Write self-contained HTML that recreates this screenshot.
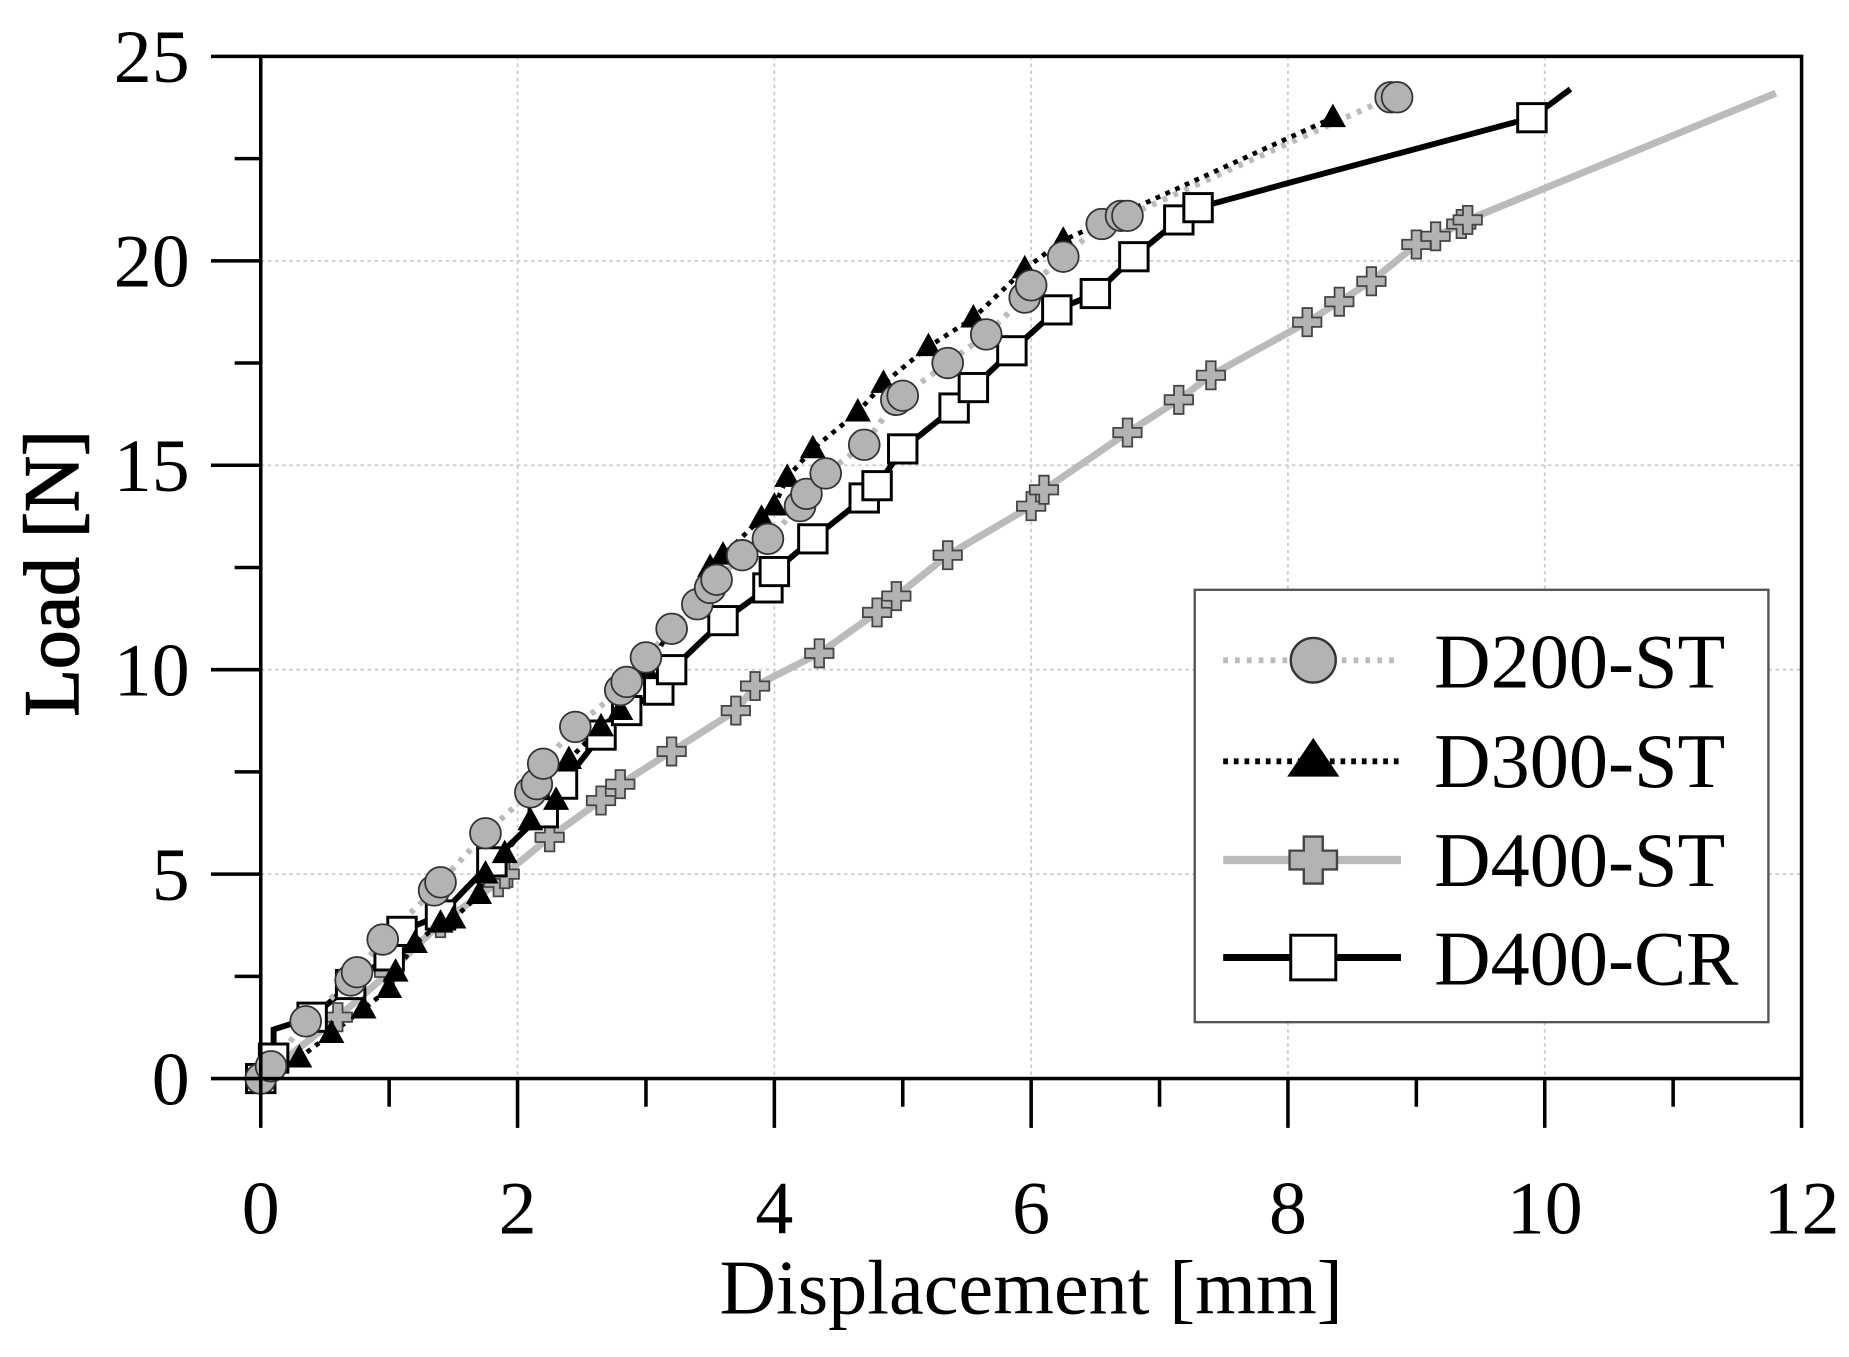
<!DOCTYPE html>
<html><head><meta charset="utf-8"><style>html,body{margin:0;padding:0;background:#fff;}svg{display:block}</style></head>
<body>
<svg id="s" width="1849" height="1357" viewBox="0 0 1560 1155" preserveAspectRatio="none" xmlns="http://www.w3.org/2000/svg" font-family="Liberation Serif, serif">
<rect width="1560" height="1155" fill="#fff"/>
<g id="grid"></g>
<g id="series"></g>
<rect x="220" y="48" width="1300" height="870" fill="none" stroke="#000" stroke-width="3"/>
<g id="ticks" stroke="#000" stroke-width="3"></g>
<g id="labels" font-size="64" fill="#000"></g>
<text x="870" y="1118" font-size="66" text-anchor="middle">Displacement [mm]</text>
<text transform="translate(66,488) rotate(-90)" font-size="66" text-anchor="middle" stroke="#000" stroke-width="1.2">Load [N]</text>
<g id="legend">
<rect x="1008" y="502" width="484" height="368" fill="#fff" stroke="#555" stroke-width="2"/>
<line x1="1032" y1="562" x2="1182" y2="562" stroke="#bbb" stroke-width="5" stroke-dasharray="4,6"/>
<circle cx="1108" cy="562" r="19" fill="#b3b3b3" stroke="#333" stroke-width="2"/>
<line x1="1032" y1="648" x2="1182" y2="648" stroke="#000" stroke-width="5" stroke-dasharray="4,5"/>
<polygon points="1108,628 1130,661 1086,661" fill="#000"/>
<line x1="1032" y1="732" x2="1182" y2="732" stroke="#bbb" stroke-width="7"/>
<path d="M1100,712h16v12h12v16h-12v12h-16v-12h-12v-16h12z" fill="#b3b3b3" stroke="#444" stroke-width="2"/>
<line x1="1032" y1="815" x2="1182" y2="815" stroke="#000" stroke-width="6"/>
<rect x="1089" y="796" width="38" height="38" fill="#fff" stroke="#000" stroke-width="2.5"/>
<g font-size="66"><text x="1210" y="585">D200-ST</text><text x="1210" y="670">D300-ST</text><text x="1210" y="754">D400-ST</text><text x="1210" y="838">D400-CR</text></g>
</g>
</svg>
<script>
const NS="http://www.w3.org/2000/svg";
const X=v=>220+108.33*v, Y=v=>918-34.8*v;
function el(p,t,a){const e=document.createElementNS(NS,t);for(const k in a)e.setAttribute(k,a[k]);p.appendChild(e);return e;}
const g=document.getElementById('grid'),tk=document.getElementById('ticks'),lb=document.getElementById('labels');
for(let i=0;i<=12;i++){const x=X(i);
 if(i%2==0&&i>0&&i<12)el(g,'line',{x1:x,y1:48,x2:x,y2:918,stroke:'#ccc','stroke-width':1.5,'stroke-dasharray':'3,3'});
 el(tk,'line',{x1:x,y1:918,x2:x,y2:i%2==0?960:942});
 if(i%2==0){const t=el(lb,'text',{x:x,y:1050,'text-anchor':'middle'});t.textContent=i;}}
for(let j=0;j<=10;j++){const v=j*2.5,y=Y(v);
 if(j%2==0&&j>0&&j<10)el(g,'line',{x1:220,y1:y,x2:1520,y2:y,stroke:'#ccc','stroke-width':1.5,'stroke-dasharray':'3,3'});
 el(tk,'line',{x1:j%2==0?178:198,y1:y,x2:220,y2:y});
 if(j%2==0){const t=el(lb,'text',{x:160,y:y+22,'text-anchor':'end'});t.textContent=v;}}
const s=document.getElementById('series');
const d200=[[0,0],[0.08,0.3],[0.35,1.4],[0.7,2.4],[0.75,2.6],[0.95,3.4],[1.35,4.6],[1.4,4.8],[1.75,6],[2.1,7],[2.15,7.2],[2.2,7.7],[2.45,8.6],[2.8,9.5],[2.85,9.7],[3,10.3],[3.2,11],[3.4,11.6],[3.5,12],[3.55,12.2],[3.75,12.8],[3.95,13.2],[4.2,14],[4.25,14.3],[4.4,14.8],[4.7,15.5],[4.95,16.6],[5,16.7],[5.35,17.5],[5.65,18.2],[5.95,19.1],[6,19.4],[6.25,20.1],[6.55,20.9],[6.7,21.1],[6.75,21.1],[8.8,24],[8.85,24]];
const d300=[[0,0],[0.3,0.5],[0.55,1.1],[0.8,1.7],[1.0,2.2],[1.05,2.6],[1.2,3.3],[1.4,3.8],[1.5,3.9],[1.7,4.5],[1.75,5],[1.9,5.5],[2.1,6.3],[2.3,6.8],[2.4,7.8],[2.65,8.6],[2.8,9],[3,10],[3.2,11],[3.5,12.5],[3.6,12.8],[3.9,13.7],[4.0,14],[4.1,14.7],[4.3,15.4],[4.65,16.3],[4.85,17],[5.2,17.9],[5.55,18.6],[5.95,19.8],[6.25,20.5],[8.35,23.5]];
const d400=[[0,0],[0.6,1.5],[1.0,2.6],[1.4,3.8],[1.85,4.8],[1.9,5],[2.25,5.9],[2.65,6.8],[2.8,7.2],[3.2,8],[3.7,9],[3.85,9.6],[4.35,10.4],[4.8,11.4],[4.95,11.8],[5.35,12.8],[6.0,14],[6.1,14.4],[6.75,15.8],[7.15,16.6],[7.4,17.2],[8.15,18.5],[8.4,19],[8.65,19.5],[9.0,20.4],[9.15,20.6],[9.35,20.9],[9.4,21],[11.8,24.1]];
const dcr=[[0,0],[0.1,0.5],[0.1,1.2],[0.4,1.5],[0.7,2.3],[1.0,3],[1.1,3.6],[1.4,4],[1.8,5.3],[2.2,6.5],[2.35,7.2],[2.65,8.4],[2.85,9],[3.1,9.5],[3.2,10],[3.6,11.2],[3.95,12],[4.0,12.4],[4.3,13.2],[4.7,14.2],[4.8,14.5],[5.0,15.4],[5.4,16.4],[5.55,16.9],[5.85,17.8],[6.2,18.8],[6.5,19.2],[6.8,20.1],[7.15,21],[7.3,21.3],[8,21.9],[9.9,23.5],[10.2,24.2]];
const pts=a=>a.map(p=>X(p[0])+','+Y(p[1])).join(' ');
el(s,'polyline',{points:pts(d400),fill:'none',stroke:'#bbb','stroke-width':6});
el(s,'polyline',{points:pts(dcr),fill:'none',stroke:'#000','stroke-width':5});
el(s,'polyline',{points:pts(d200),fill:'none',stroke:'#bbb','stroke-width':5,'stroke-dasharray':'4,6'});
el(s,'polyline',{points:pts(d300),fill:'none',stroke:'#000','stroke-width':4,'stroke-dasharray':'4,5'});
d400.slice(1,-1).forEach(p=>{const x=X(p[0]),y=Y(p[1]);el(s,'path',{d:`M${x-4},${y-12}h8v8h8v8h-8v8h-8v-8h-8v-8h8z`,fill:'#b3b3b3',stroke:'#444','stroke-width':1.5});});
dcr.filter((p,i)=>i!=2&&p[0]!=8&&p[0]!=10.2).forEach(p=>{const x=X(p[0]),y=Y(p[1]);el(s,'rect',{x:x-12,y:y-12,width:24,height:24,fill:'#fff',stroke:'#000','stroke-width':2.5});});
d300.forEach(p=>{const x=X(p[0]),y=Y(p[1]);el(s,'polygon',{points:`${x},${y-12} ${x+11},${y+8} ${x-11},${y+8}`,fill:'#000'});});
d200.forEach(p=>{const x=X(p[0]),y=Y(p[1]);el(s,'circle',{cx:x,cy:y,r:13,fill:'#b3b3b3',stroke:'#333','stroke-width':1.5});});
</script>
</body></html>
